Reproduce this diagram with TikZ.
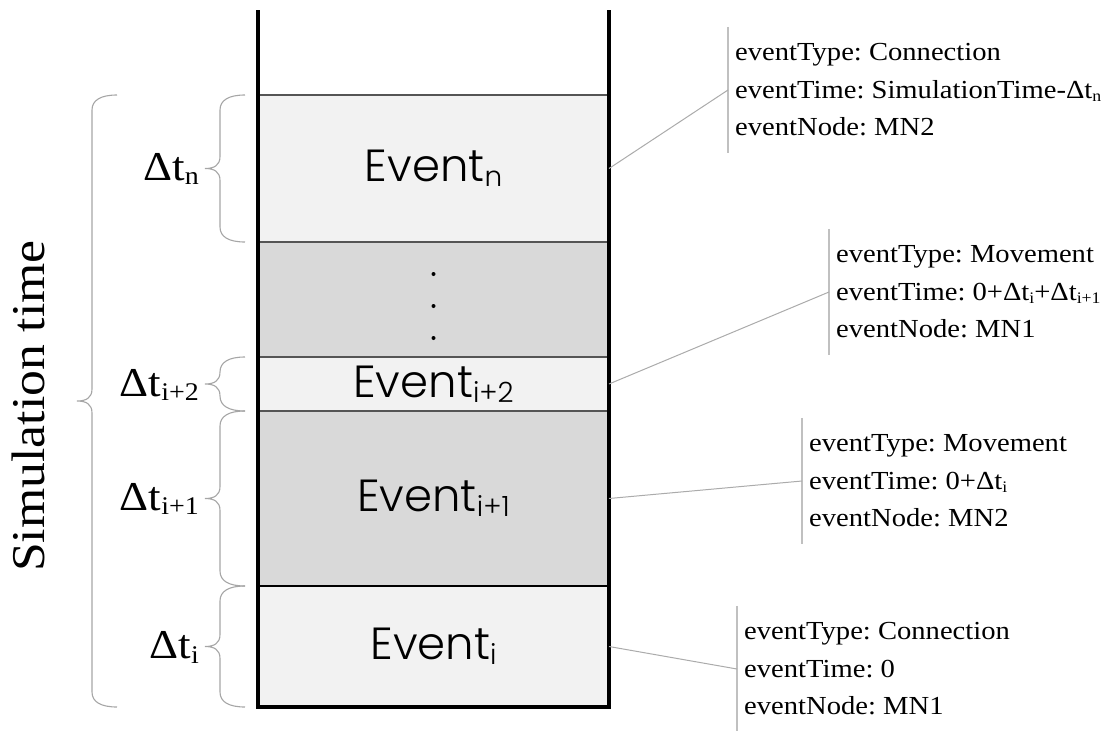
\documentclass[tikz,border=0pt]{standalone}
\usepackage{fontspec}
\newfontfamily\serif[FakeStretch=1.1]{Liberation Serif}
\newfontfamily\gothic{Poppins Light}
\newcommand\sbs[1]{\raisebox{-0.12em}{\scalebox{0.62}{#1}}}
\definecolor{lightfill}{HTML}{F2F2F2}
\definecolor{darkfill}{HTML}{D9D9D9}
\definecolor{sepline}{HTML}{555555}
\definecolor{bracegray}{HTML}{A6A6A6}
\definecolor{leadergray}{HTML}{ABABAB}
\definecolor{bargray}{HTML}{C0C0C0}
% curly brace: #1 x of ends, #2 top y, #3 bottom y
\newcommand\cbrace[3]{%
  \pgfmathsetmacro\bm{(#2+#3)/2}%
  \draw[brc] (#1,#2) .. controls +(-16,0) and +(0,-10) .. (#1-25,#2+15)
    -- (#1-25,\bm-12) .. controls +(0,9) and +(9,0) .. (#1-40,\bm)
    .. controls +(9,0) and +(0,-9) .. (#1-25,\bm+12)
    -- (#1-25,#3-15) .. controls +(0,10) and +(-16,0) .. (#1,#3);}
\frenchspacing
\begin{document}
\begin{tikzpicture}[x=1pt,y=-1pt,
  rowbase/.style={rectangle,inner sep=0pt,outer sep=0pt,minimum width=351pt,
    font=\gothic\fontsize{45}{50}\selectfont},
  rowlight/.style={rowbase,fill=lightfill},
  rowdark/.style={rowbase,fill=darkfill},
  wall/.style={line width=3.4pt,black,line join=miter},
  sep/.style={line width=1.6pt,sepline},
  sepdark/.style={line width=2.4pt,black},
  brc/.style={line width=1.1pt,bracegray},
  leader/.style={line width=1pt,leadergray},
  annbar/.style={line width=1.2pt,bargray},
  annot/.style={rectangle,anchor=west,inner xsep=7pt,inner ysep=0pt,minimum height=126pt,
    align=left,font=\serif\fontsize{26}{37.5}\selectfont},
  dlabel/.style={anchor=east,inner sep=0pt,font=\serif\fontsize{41}{45}\selectfont},
  dotmark/.style={black}]
\useasboundingbox (0,0) rectangle (1114,731);

% rows of the stack
\node[rowlight,minimum height=147pt] (rn) at (433.5,168.5) {Event\sbs{n}};
\node[rowdark,minimum height=115pt] (rd) at (433.5,299.5) {};
\node[rowlight,minimum height=54pt] (r2) at (433.5,384) {Event\sbs{i+2}};
\node[rowdark,minimum height=175pt] (r1) at (433.5,498.5) {Event\sbs{i+1}};
\node[rowlight,minimum height=121pt] (r0) at (433.5,646.5) {Event\sbs{i}};

\foreach \y in {274,306,338} \fill[dotmark] (433.5,\y) circle (2pt);

\draw[sep] (rn.north west) -- (rn.north east);
\draw[sep] (rn.south west) -- (rn.south east);
\draw[sep] (rd.south west) -- (rd.south east);
\draw[sep] (r2.south west) -- (r2.south east);
\draw[sepdark] (r1.south west) -- (r1.south east);

% container walls
\draw[wall] (258,10) -- (258,707) -- (609,707) -- (609,10);

% braces
\cbrace{245}{95}{242}
\cbrace{245}{357}{411}
\cbrace{245}{411}{586}
\cbrace{245}{586}{707}
\cbrace{117}{95}{707}

% brace labels
\node[dlabel] (ln) at (199,169) {Δt\sbs{n}};
\node[dlabel] (l2) at (199,385) {Δt\sbs{i+2}};
\node[dlabel] (l1) at (199,499) {Δt\sbs{i+1}};
\node[dlabel] (l0) at (199,647) {Δt\sbs{i}};
\node[rotate=90,anchor=base,inner sep=0pt,font=\serif\fontsize{47}{52}\selectfont] (st) at (44,406) {Simulation time};

% annotations
\node[annot] (a1) at (728,90) {eventType: Connection\\eventTime: SimulationTime-Δt\sbs{n}\\eventNode: MN2};
\node[annot] (a2) at (829,292) {eventType: Movement\\eventTime: 0+Δt\sbs{i}+Δt\sbs{i+1}\\eventNode: MN1};
\node[annot] (a3) at (802,481) {eventType: Movement\\eventTime: 0+Δt\sbs{i}\\eventNode: MN2};
\node[annot] (a4) at (737,669) {eventType: Connection\\eventTime: 0\\eventNode: MN1};

\foreach \a in {a1,a2,a3,a4} \draw[annbar] (\a.north west) -- (\a.south west);

\draw[leader] (rn.east) -- (a1.west);
\draw[leader] (r2.east) -- (a2.west);
\draw[leader] (r1.east) -- (a3.west);
\draw[leader] (r0.east) -- (a4.west);
\end{tikzpicture}
\end{document}
